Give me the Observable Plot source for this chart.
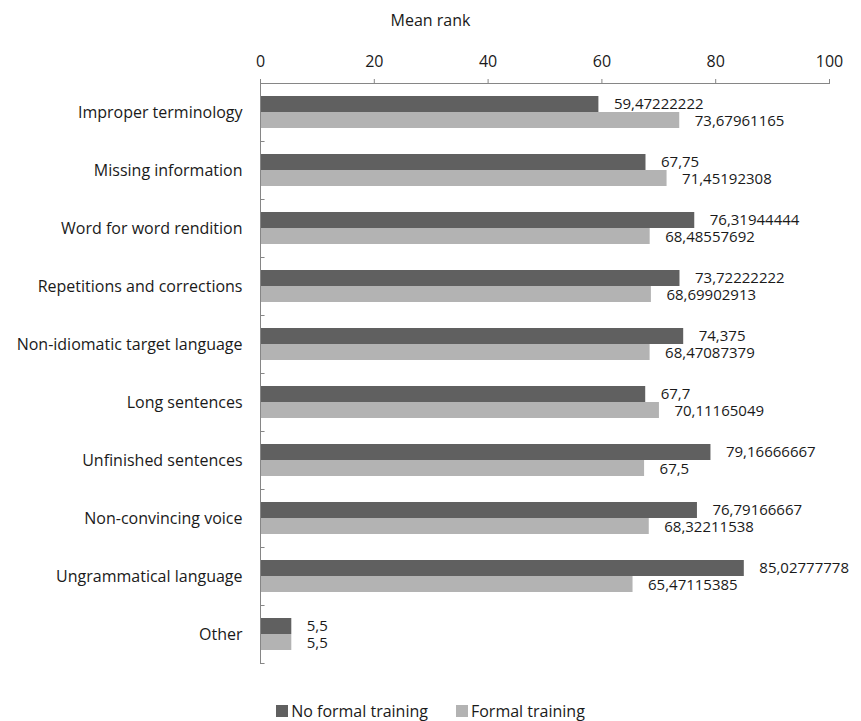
<!DOCTYPE html>
<html>
<head>
<meta charset="utf-8">
<script src="https://cdn.jsdelivr.net/npm/d3@7"></script>
<script src="https://cdn.jsdelivr.net/npm/@observablehq/plot@0.6"></script>
<style>
  html, body { margin: 0; padding: 0; background: #fff; }
  body { width: 861px; height: 721px; overflow: hidden; font-family: "Open Sans", sans-serif; }
  #legend { display: flex; justify-content: center; align-items: center; gap: 28px; height: 20px; margin-top: 21px; font-size: 16px; color: #1a1a1a; }
  #legend span.item { display: flex; align-items: center; gap: 3px; }
  #legend span.sw { display: inline-block; width: 12px; height: 12px; }
</style>
</head>
<body>
<div id="chart"></div>
<div id="legend"></div>
<script>
const categories = [
  "Improper terminology",
  "Missing information",
  "Word for word rendition",
  "Repetitions and corrections",
  "Non-idiomatic target language",
  "Long sentences",
  "Unfinished sentences",
  "Non-convincing voice",
  "Ungrammatical language",
  "Other"
];
const noFormalTraining = [59.47222222, 67.75, 76.31944444, 73.72222222, 74.375, 67.7, 79.16666667, 76.79166667, 85.02777778, 5.5];
const formalTraining = [73.67961165, 71.45192308, 68.48557692, 68.69902913, 68.47087379, 70.11165049, 67.5, 68.32211538, 65.47115385, 5.5];
const seriesNames = ["No formal training", "Formal training"];
const seriesColors = ["#606060", "#b3b3b3"];
const xTicks = [0, 20, 40, 60, 80, 100];
const axisTitle = "Mean rank";

const dark = categories.map((c, i) => ({category: c, series: seriesNames[0], value: noFormalTraining[i]}));
const light = categories.map((c, i) => ({category: c, series: seriesNames[1], value: formalTraining[i]}));
const fmt = v => String(v).replace(".", ",");
const axisColor = "#868686";

const chart = Plot.plot({
  width: 861,
  height: 680,
  marginTop: 83,
  marginLeft: 260,
  marginRight: 32,
  marginBottom: 17,
  style: {fontFamily: "Open Sans", fontSize: "16px", color: "#1a1a1a", background: "white", overflow: "visible"},
  x: {domain: [0, 100], axis: null},
  y: {domain: categories, padding: 0, axis: null},
  marks: [
    Plot.axisX({anchor: "top", ticks: xTicks, tickSize: 5, tickPadding: 12, label: null, stroke: axisColor, fontSize: 16}),
    Plot.axisY({tickSize: 0, tickPadding: 18, label: null, fontSize: 16}),
    Plot.barX(dark, {x: "value", y: "category", fill: seriesColors[0], insetTop: 13, insetBottom: 29}),
    Plot.barX(light, {x: "value", y: "category", fill: seriesColors[1], insetTop: 29, insetBottom: 13}),
    Plot.ruleY(categories, {y: d => d, x1: 0, x2: 0.8, dy: 29, stroke: axisColor}),
    Plot.frame({anchor: "top", stroke: axisColor}),
    Plot.frame({anchor: "left", stroke: axisColor}),
    Plot.text(dark, {x: "value", y: "category", text: d => fmt(d.value), dx: 15, dy: -8, textAnchor: "start", fontSize: 15, fill: "#1a1a1a"}),
    Plot.text(light, {x: "value", y: "category", text: d => fmt(d.value), dx: 15, dy: 9, textAnchor: "start", fontSize: 15, fill: "#1a1a1a"}),
    Plot.text([axisTitle], {frameAnchor: "top-left", dx: 130, dy: -63, textAnchor: "start", lineAnchor: "middle", fontSize: 16, fill: "#1a1a1a"})
  ]
});
document.getElementById("chart").appendChild(chart);

const legend = document.getElementById("legend");
seriesNames.forEach((name, i) => {
  const item = document.createElement("span");
  item.className = "item";
  const sw = document.createElement("span");
  sw.className = "sw";
  sw.style.background = seriesColors[i];
  item.appendChild(sw);
  const t = document.createElement("span");
  t.textContent = name;
  item.appendChild(t);
  legend.appendChild(item);
});
</script>
</body>
</html>
